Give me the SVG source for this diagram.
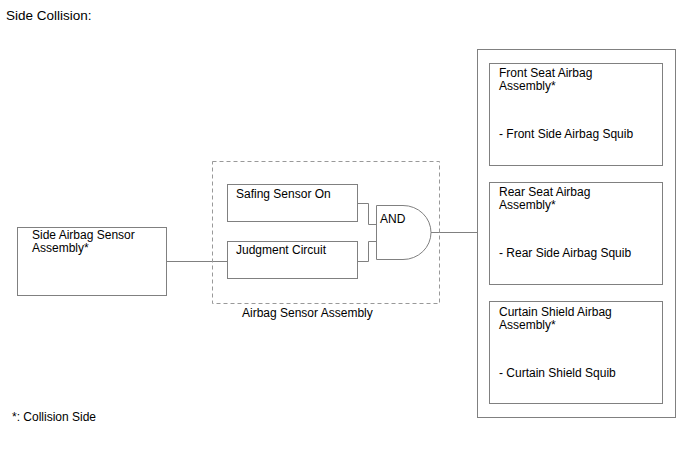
<svg xmlns="http://www.w3.org/2000/svg" width="688" height="463" viewBox="0 0 688 463">
<style>
text{font-family:"Liberation Sans",Arial,sans-serif;font-size:12px;fill:#000}
.box{fill:#fff;stroke:#808080;stroke-width:1}
.ln{fill:none;stroke:#808080;stroke-width:1}
.dash{fill:none;stroke:#999;stroke-width:1;stroke-dasharray:4,3}
</style>
<rect width="688" height="463" fill="#fff"/>
<text x="6" y="20" style="font-size:13.5px">Side Collision:</text>
<text x="12" y="421">*: Collision Side</text>
<g id="connectors">
<path class="ln" d="M166.5 261.5H227"/>
<path class="ln" d="M357 203.5H368.5V224.5H376"/>
<path class="ln" d="M357 261.5H368.5V241.5H376"/>
<path class="ln" d="M431 232.5H477"/>
</g>
<g id="airbag-sensor-assembly">
<rect class="dash" x="212.5" y="161.5" width="227" height="142"/>
<text x="242" y="317">Airbag Sensor Assembly</text>
</g>
<g id="side-airbag-sensor">
<rect class="box" x="17.5" y="227.5" width="149" height="68"/>
<text x="32" y="239">Side Airbag Sensor</text>
<text x="32" y="252">Assembly*</text>
</g>
<g id="safing-sensor">
<rect class="box" x="227.5" y="184.5" width="130" height="37"/>
<text x="236" y="198">Safing Sensor On</text>
</g>
<g id="judgment-circuit">
<rect class="box" x="227.5" y="241.5" width="130" height="37"/>
<text x="236" y="254">Judgment Circuit</text>
</g>
<g id="and-gate">
<path class="box" d="M376.5 205.5H403A28 27 0 0 1 403 259.5H376.5Z"/>
<text x="380" y="223">AND</text>
</g>
<g id="airbags">
<rect class="box" x="477.5" y="49.5" width="198" height="368"/>
</g>
<g id="front-seat-airbag">
<rect class="box" x="489.5" y="63.5" width="173" height="102"/>
<text x="499" y="77">Front Seat Airbag</text>
<text x="499" y="90">Assembly*</text>
<text x="499" y="138">- Front Side Airbag Squib</text>
</g>
<g id="rear-seat-airbag">
<rect class="box" x="489.5" y="182.5" width="173" height="102"/>
<text x="499" y="196">Rear Seat Airbag</text>
<text x="499" y="209">Assembly*</text>
<text x="499" y="257">- Rear Side Airbag Squib</text>
</g>
<g id="curtain-shield-airbag">
<rect class="box" x="489.5" y="301.5" width="173" height="102"/>
<text x="499" y="316">Curtain Shield Airbag</text>
<text x="499" y="329">Assembly*</text>
<text x="499" y="377">- Curtain Shield Squib</text>
</g>
</svg>
